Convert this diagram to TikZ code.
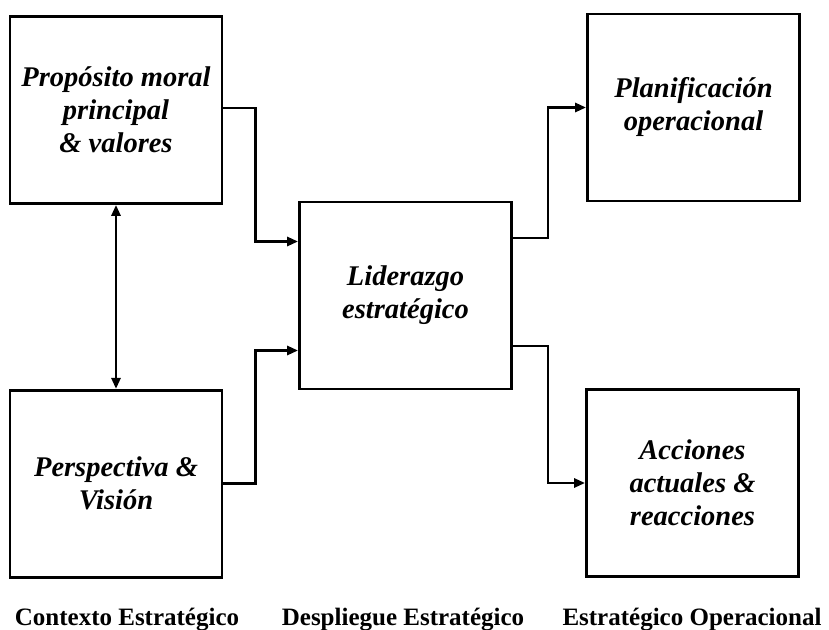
\documentclass[tikz,border=0pt]{standalone}
\usepackage{fontspec}
\setmainfont{Liberation Serif}
\usetikzlibrary{arrows.meta, positioning, calc}
\tikzset{
  blockbox/.style={
    rectangle, draw=black, line width=2.8pt, minimum width=212pt, minimum height=187pt,
    align=center, font=\fontsize{28.5}{33}\selectfont\bfseries\itshape
  },
  conn/.style={-{Triangle[length=11pt, width=9pt]}, line width=2.8pt},
  biconn/.style={{Triangle[length=11pt, width=9pt]}-{Triangle[length=11pt, width=9pt]}, line width=2.8pt},
  colname/.style={anchor=base, font=\fontsize{25}{30}\selectfont\bfseries}
}

\begin{document}
\begin{tikzpicture}[x=1pt, y=1pt]
    \useasboundingbox (0,0) rectangle (829,629);
    \node[blockbox] (pmv) at (116,519) {Propósito moral\\principal\\\& valores};
    \node[blockbox, below=184pt of pmv] (pyv) {Perspectiva \&\\Visión};
    \node[blockbox] (lid) at (405.5,333.5) {Liderazgo\\estratégico};
    \node[blockbox] (plan) at (693.5,521.5) {Planificación\\operacional};
    \node[blockbox] (acc) at (692.5,146) {Acciones\\actuales \&\\reacciones};
    \node[colname] (ctx) at (127,4) {Contexto Estratégico};
    \node[colname] (dsp) at (403,4) {Despliegue Estratégico};
    \node[colname] (eop) at (692,4) {Estratégico Operacional};
    \draw[biconn] (pmv.south) -- (pyv.north);
    \draw[conn] ([yshift=2pt]pmv.east) -- ++(32,0) |- ([yshift=54pt]lid.west);
    \draw[conn] (pyv.east) -- ++(32,0) |- ([yshift=-55pt]lid.west);
    \draw[conn] ([yshift=57.5pt]lid.east) -- ++(35,0) |- (plan.west);
    \draw[conn] ([yshift=-50.5pt]lid.east) -- ++(35,0) |- (acc.west);
\end{tikzpicture}
\end{document}
